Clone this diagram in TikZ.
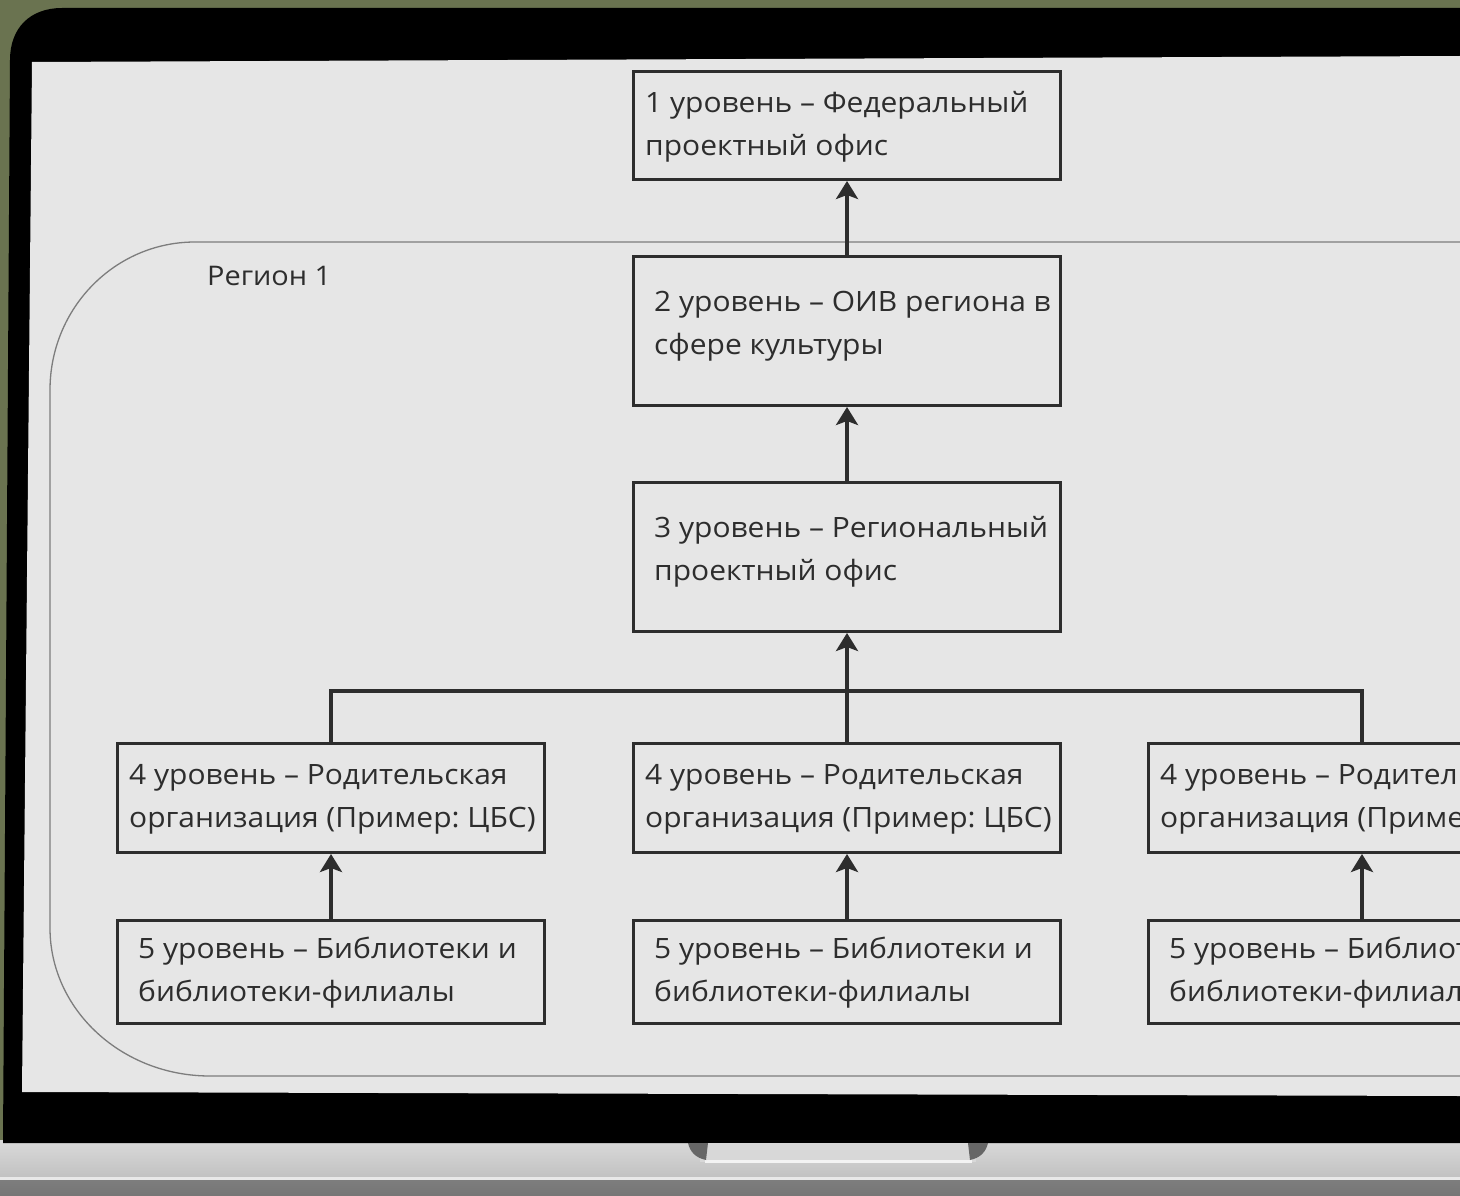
\documentclass[tikz,border=0pt]{standalone}
\usepackage{fontspec}
\setmainfont{Open Sans}[FakeStretch=1.07]
\frenchspacing
\usetikzlibrary{arrows.meta,calc}
\definecolor{olive}{RGB}{106,115,80}
\definecolor{screenc}{RGB}{230,230,230}
\definecolor{boxc}{RGB}{45,45,45}
\definecolor{txtc}{RGB}{45,45,45}
\definecolor{regc}{RGB}{125,125,125}
\definecolor{basec}{RGB}{214,214,214}
\definecolor{basedark}{RGB}{138,138,138}
\tikzset{
  lvlbox/.style={draw=boxc, line width=3pt, rectangle, inner sep=0pt, anchor=north west},
  lvltxt/.style={anchor=west, align=left, inner sep=0pt, text=txtc,
    font=\fontsize{28}{43}\selectfont},
  conn/.style={draw=boxc, line width=3.5pt},
  arr/.style={conn, -{Stealth[length=18pt,width=22pt,inset=4pt]}},
  region/.style={draw=regc, line width=1.3pt}
}
\begin{document}
\begin{tikzpicture}[x=1pt,y=-1pt]
\useasboundingbox (0,0) rectangle (1460,1196);
% background
\fill[olive] (0,0) rectangle (1460,1196);
% laptop base
\fill[basec] (0,1140) rectangle (1460,1178);
\shade[top color=basec!95!white, bottom color=basec!90!black] (0,1143) rectangle (1460,1178);
\shade[top color=basedark!110, bottom color=basedark!85!black] (0,1178) rectangle (1460,1196);
\fill[white!80!basedark] (0,1177) rectangle (1460,1180);
% bezel
\fill[black] (3,1143) -- (10,60) .. controls (10,28) and (30,8) .. (62,8) -- (1460,8) -- (1460,1143) -- cycle;
% notch
\fill[basec!95!white] (700,1143) rectangle (976,1162);
\fill[white!70!basec] (705,1160) rectangle (972,1163);
\fill[black!60] (688,1143) .. controls (690,1152) and (696,1158) .. (706,1160) -- (708,1143) -- cycle;
\fill[black!60] (988,1143) .. controls (986,1152) and (980,1158) .. (970,1160) -- (968,1143) -- cycle;
% screen
\fill[screenc] (32,62) -- (1460,56) -- (1460,1096) -- (22,1092) -- cycle;
\begin{scope}
\clip (32,62) -- (1460,56) -- (1460,1096) -- (22,1092) -- cycle;
% region
\draw[region] (195,242) -- (1520,242) -- (1520,1076) -- (210,1076)
  .. controls (122,1076) and (50,1010) .. (50,928) -- (50,390)
  .. controls (50,308) and (115,242) .. (195,242);
\node[anchor=west, inner sep=0pt, text=txtc, font=\fontsize{27}{30}\selectfont] (reg) at (207,276) {Регион 1};
% boxes
\node[lvlbox, minimum width=427pt, minimum height=108pt] (b1) at (632,70) {};
\node[lvltxt] (t1) at ([xshift=13pt,yshift=-1pt]b1.west) {1 уровень – Федеральный\\проектный офис};
\node[lvlbox, minimum width=427pt, minimum height=149pt] (b2) at (632,255) {};
\node[lvltxt] (t2) at ([xshift=22pt,yshift=5pt]b2.west) {2 уровень – ОИВ региона в\\сфере культуры};
\node[lvlbox, minimum width=427pt, minimum height=149pt] (b3) at (632,481) {};
\node[lvltxt] (t3) at ([xshift=22pt,yshift=5pt]b3.west) {3 уровень – Региональный\\проектный офис};
\foreach \nm/\xx in {a/116, b/632, c/1147}{
  \node[lvlbox, minimum width=427pt, minimum height=109pt] (b4\nm) at (\xx,742) {};
  \node[lvltxt] (t4\nm) at ([xshift=13pt,yshift=-1pt]b4\nm.west) {4 уровень – Родительская\\организация (Пример: ЦБС)};
  \node[lvlbox, minimum width=427pt, minimum height=103pt] (b5\nm) at (\xx,919) {};
  \node[lvltxt] (t5\nm) at ([xshift=22pt,yshift=-1pt]b5\nm.west) {5 уровень – Библиотеки и\\библиотеки-филиалы};
}
\path (b4a.north) ++(0,-51) coordinate (busl);
\path (b4c.north) ++(0,-51) coordinate (busr);
% connectors
\draw[arr] (b2.north) -- (b1.south);
\draw[arr] (b3.north) -- (b2.south);
\draw[conn] (b4a.north) -- (busl) -- (busr) -- (b4c.north);
\draw[arr] (b4b.north) -- (b3.south);
\foreach \nm in {a,b,c}{
  \draw[arr] (b5\nm.north) -- (b4\nm.south);
}
\end{scope}
\end{tikzpicture}
\end{document}
